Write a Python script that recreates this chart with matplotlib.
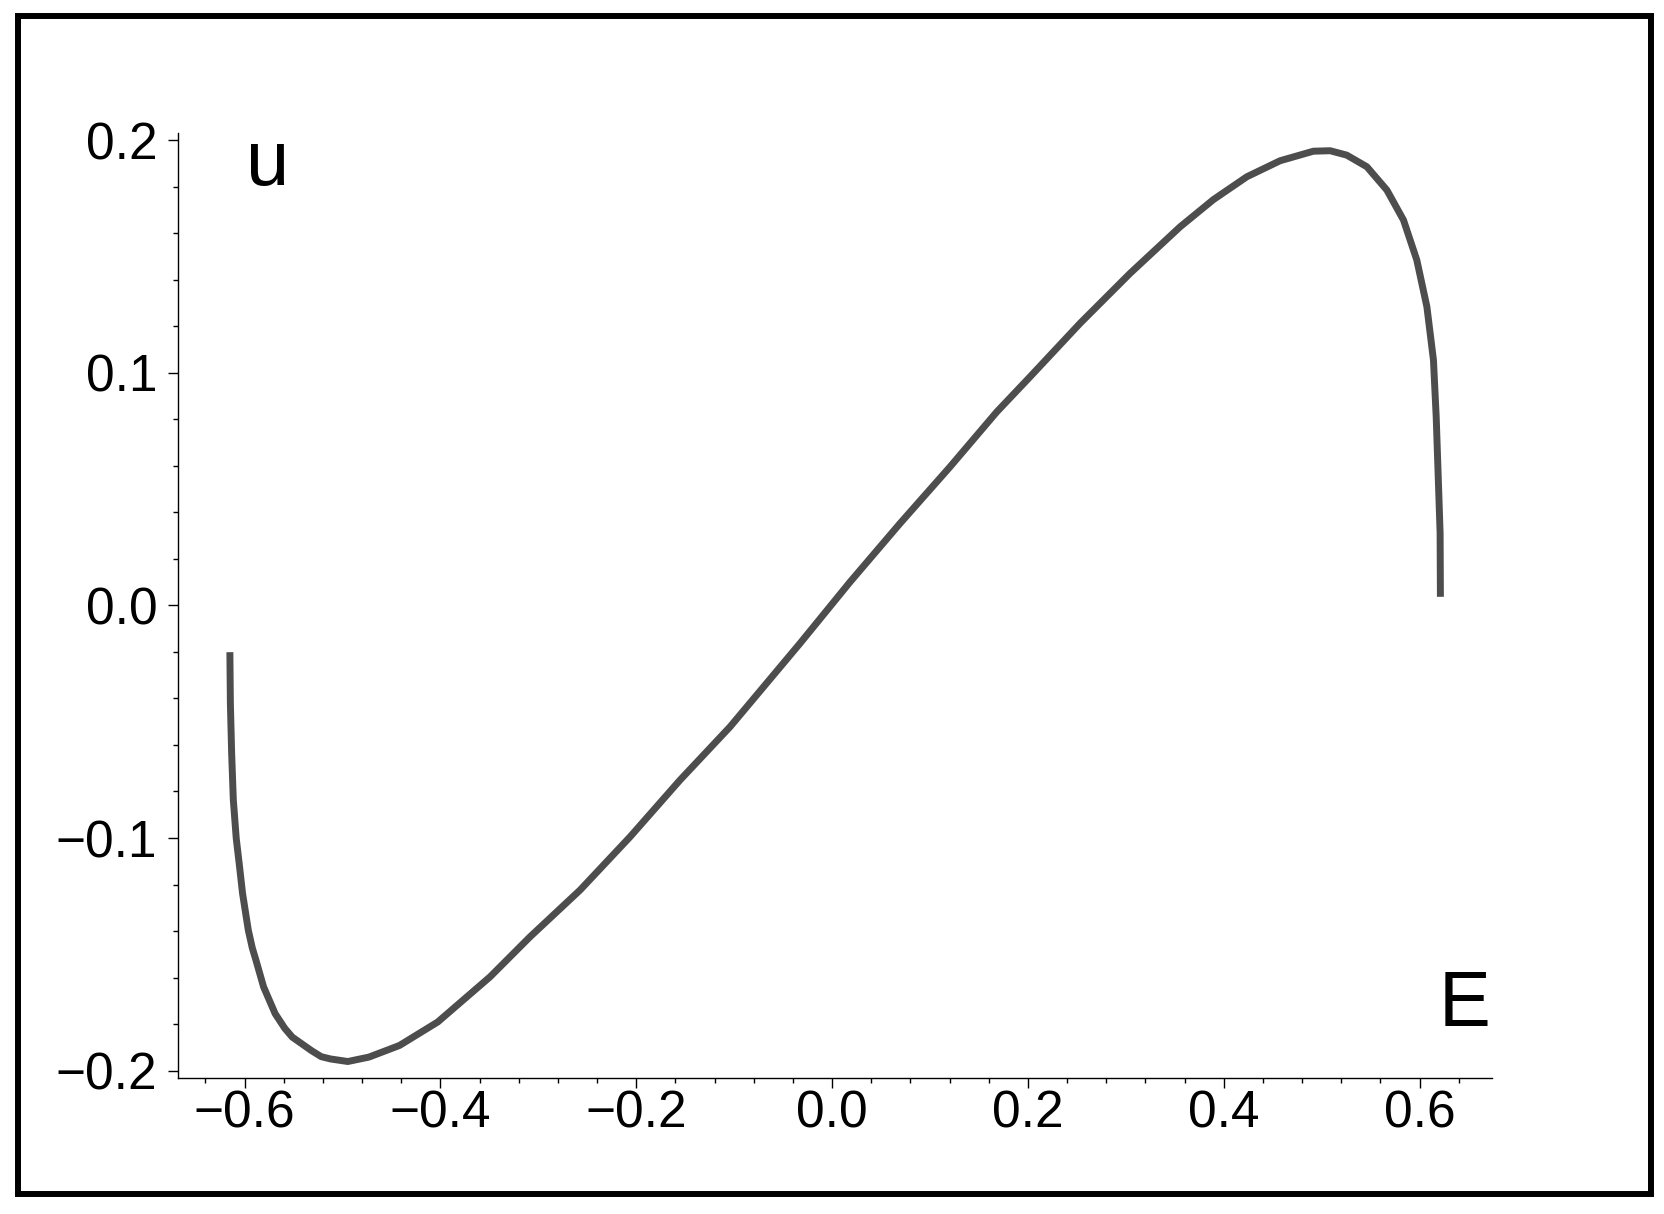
import numpy as np
import matplotlib
matplotlib.use('Agg')
import matplotlib.pyplot as plt
from matplotlib.patches import Rectangle
from matplotlib.ticker import MultipleLocator, FuncFormatter

plt.rcParams['font.family'] = ['Liberation Sans', 'DejaVu Sans']

# curve: lower branch then upper branch
E_vals = [-0.615, -0.6145, -0.6132, -0.6115, -0.6085, -0.605, -0.6021, -0.5962,
          -0.5921, -0.5884, -0.5806, -0.5688, -0.559, -0.5513, -0.5317, -0.5218,
          -0.5122, -0.4946, -0.473, -0.4418, -0.4027, -0.3493, -0.3085, -0.2574,
          -0.2063, -0.1553, -0.1042, -0.0327, 0.0184, 0.0695, 0.1205,
          0.1682, 0.2022, 0.2533, 0.3044, 0.3555, 0.3895, 0.4236, 0.4576, 0.4916,
          0.5087, 0.5257, 0.5462, 0.5666, 0.5836, 0.5972, 0.6075, 0.6142, 0.617,
          0.6193, 0.621, 0.6213]
u_vals = [-0.0201, -0.042, -0.0636, -0.0835, -0.1002, -0.1128, -0.1237, -0.1396,
          -0.1473, -0.1525, -0.164, -0.1755, -0.1818, -0.1856, -0.1914, -0.194,
          -0.195, -0.1961, -0.1942, -0.1892, -0.1791, -0.1597, -0.1425, -0.1224,
          -0.0995, -0.0751, -0.0522, -0.0163, 0.0101, 0.0353, 0.0596,
          0.0832, 0.0983, 0.1213, 0.1428, 0.1628, 0.1745, 0.1843, 0.1912, 0.1953,
          0.1955, 0.1936, 0.1886, 0.1786, 0.1657, 0.1485, 0.1284, 0.1055, 0.0811,
          0.0525, 0.031, 0.0037]

x_major = [-0.6, -0.4, -0.2, 0.0, 0.2, 0.4, 0.6]
y_major = [-0.2, -0.1, 0.0, 0.1, 0.2]


def fmt(v, pos):
    return f'{v:.1f}'.replace('-', '\u2212')


fig = plt.figure(figsize=(16.65, 12.14), dpi=100)
ax = fig.add_axes([0.1069, 0.1120, 0.7892, 0.7784])

ax.plot(E_vals, u_vals, color='#4d4d4d', lw=5, solid_capstyle='butt',
        solid_joinstyle='round')

ax.set_xlim(-0.668, 0.674)
ax.set_ylim(-0.2032, 0.2031)

for s in ['top', 'right']:
    ax.spines[s].set_visible(False)
for s in ['left', 'bottom']:
    ax.spines[s].set_linewidth(1.0)

ax.set_xticks(x_major)
ax.set_yticks(y_major)
ax.xaxis.set_minor_locator(MultipleLocator(0.04))
ax.yaxis.set_minor_locator(MultipleLocator(0.02))
ax.xaxis.set_major_formatter(FuncFormatter(fmt))
ax.yaxis.set_major_formatter(FuncFormatter(fmt))
ax.tick_params(axis='both', which='major', direction='out', length=7, width=1,
               labelsize=37)
ax.tick_params(axis='both', which='minor', direction='out', length=3.5, width=1)
ax.tick_params(axis='x', which='major', pad=1)
ax.tick_params(axis='y', which='major', pad=8)

ax.text(-0.5986, 0.1807, 'u', fontsize=56, ha='left', va='baseline')
ax.text(0.672, -0.1809, 'E', fontsize=56, ha='right', va='baseline')

# outer frame
fig.patches.append(Rectangle((18 / 1665, 1 - 1194 / 1214), (1651 - 18) / 1665,
                             (1194 - 16) / 1214, transform=fig.transFigure,
                             fill=False, edgecolor='black', lw=4.3))

plt.savefig('out.png', dpi=100)
